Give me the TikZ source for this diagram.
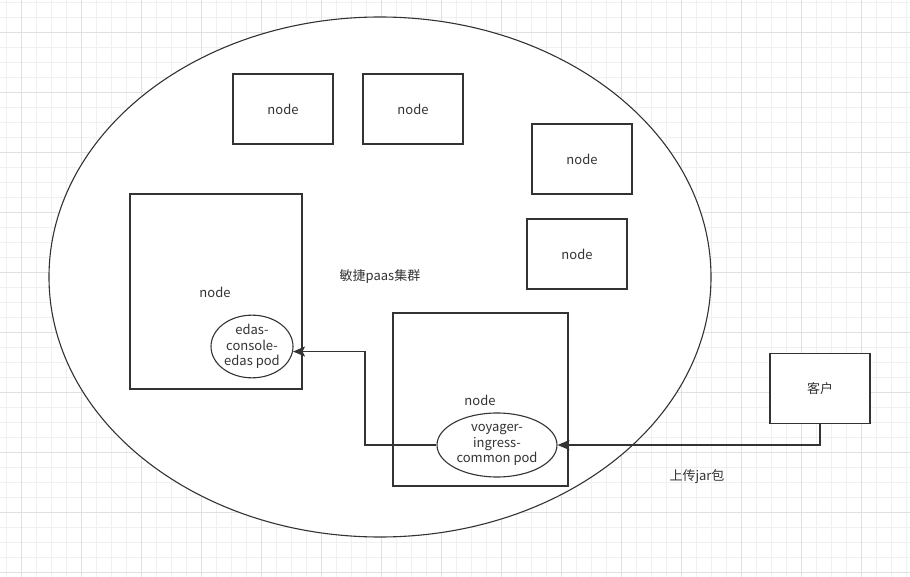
\documentclass[tikz,border=0pt]{standalone}
\usepackage{fontspec}
\setmainfont{Noto Sans CJK SC}
\usetikzlibrary{shapes.geometric}
\usetikzlibrary{arrows.meta}

\definecolor{ink}{HTML}{333333}
\definecolor{gridminor}{HTML}{F0F0F0}
\definecolor{gridmajor}{HTML}{E0E0E0}

\begin{document}
\begin{tikzpicture}[
    x = 1pt, y = -1pt,
    every node/.style = {text = ink, font = \fontsize{13}{15.5}\selectfont},
    box/.style = {shape = rectangle, draw = ink, fill = white, line width = 1.3pt, minimum width = 100pt, minimum height = 70pt, inner sep = 0pt},
    pod/.style = {shape = ellipse, draw = ink, fill = white, line width = 1.1pt, align = center, inner sep = 0pt},
    cluster/.style = {shape = ellipse, draw = ink, fill = white, line width = 1.1pt, minimum width = 662pt, minimum height = 520pt},
    link/.style = {draw = ink, line width = 1.4pt, -{Stealth[length = 12pt, width = 10pt, inset = 2.5pt]}},
    ]
    \useasboundingbox (0,0) rectangle (910,577);
    \fill[white] (0,0) rectangle (910,577);
    \foreach \gx in {6,21,...,910} \draw[gridminor, line width = 0.8pt] (\gx,0) -- (\gx,577);
    \foreach \gy in {2,17,...,577} \draw[gridminor, line width = 0.8pt] (0,\gy) -- (910,\gy);
    \foreach \gx in {21,81,...,910} \draw[gridmajor, line width = 0.8pt] (\gx,0) -- (\gx,577);
    \foreach \gy in {32,92,...,577} \draw[gridmajor, line width = 0.8pt] (0,\gy) -- (910,\gy);

    \node[cluster] (paas) at (380,277) {敏捷paas集群};

    \node[box] (n1) at (283,109) {node};
    \node[box] (n2) at (413,109) {node};
    \node[box] (n3) at (582,159) {node};
    \node[box] (n4) at (577,254) {node};
    \node[box, minimum width = 172pt, minimum height = 195pt] (nleft) at (216,291.5) {};
    \node (nleftlabel) at (215,292) {node};
    \node[box, minimum width = 175pt, minimum height = 173pt] (nmid) at (480.5,399.5) {};
    \node (nmidlabel) at (480,400) {node};
    \node[box] (client) at (820,388.5) {客户};

    \node[pod, minimum width = 82pt, minimum height = 53pt] (edas) at (252,346.5) {edas-\\console-\\edas pod};
    \node[pod, minimum width = 120pt, minimum height = 64pt] (voyager) at (497,445) {voyager-\\ingress-\\common pod};

    \node (upload) at (697,477) {上传jar包};

    \coordinate (bend) at (365,445);
    \path[link] (client.south) |- (voyager.east);
    \path[link] (voyager.west) -- (bend) |- (edas.-7);
\end{tikzpicture}
\end{document}
